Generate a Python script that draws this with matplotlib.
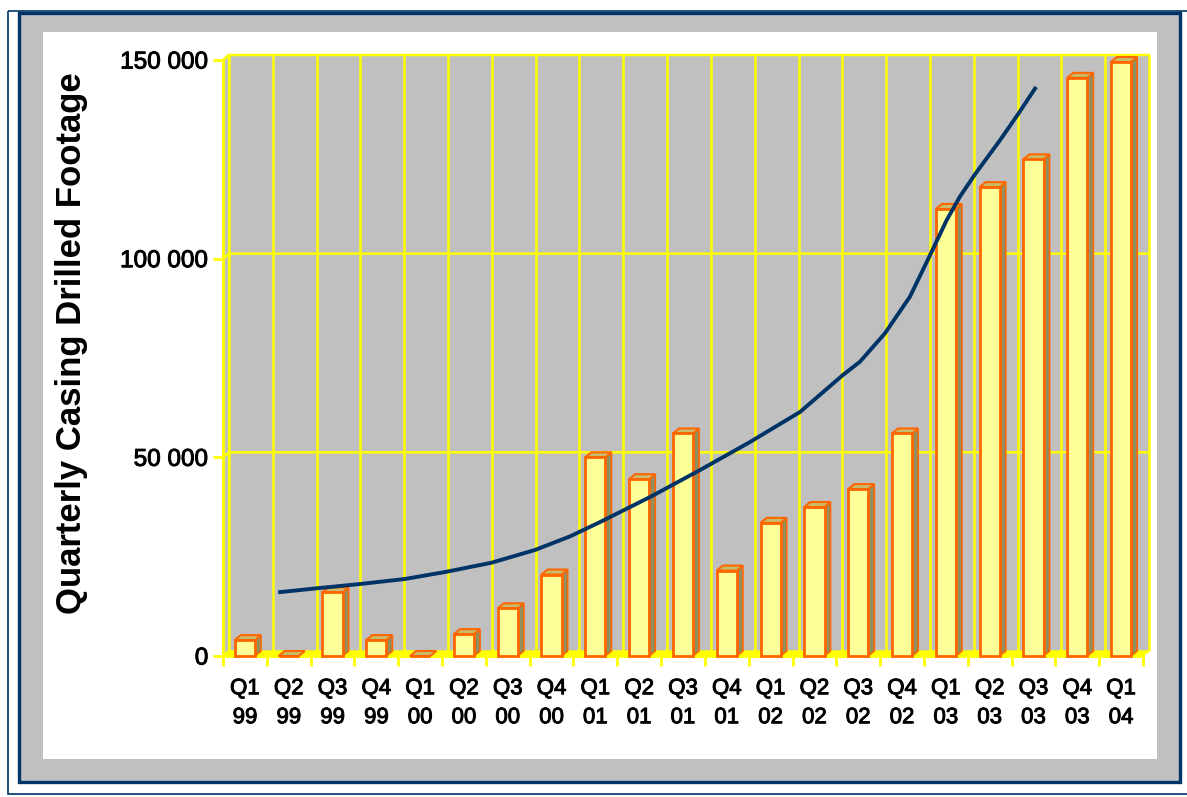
import matplotlib
matplotlib.use("Agg")
import matplotlib.pyplot as plt
import matplotlib.patheffects as pe
from matplotlib.patches import Rectangle, Polygon

plt.rcParams["font.family"] = ["Liberation Sans", "DejaVu Sans"]

quarters = ["Q1", "Q2", "Q3", "Q4", "Q1", "Q2", "Q3", "Q4", "Q1", "Q2", "Q3",
            "Q4", "Q1", "Q2", "Q3", "Q4", "Q1", "Q2", "Q3", "Q4", "Q1"]
years = ["99", "99", "99", "99", "00", "00", "00", "00", "01", "01", "01",
         "01", "02", "02", "02", "02", "03", "03", "03", "03", "04"]
footage = [4000, 0, 16000, 4000, 0, 5500, 12000, 20500, 50000, 44500, 56000,
           21500, 33500, 37500, 42000, 56000, 112500, 118000, 125000, 145500, 149500]

# trend curve, sampled along the category axis (0 = Q1 99)
trend_pos = [0.76, 1.64, 2.63, 3.65, 4.61, 5.63, 6.62, 7.42, 8.11, 9.25, 10.39,
             11.53, 12.67, 13.65, 14.04, 14.61, 15.18, 15.64, 16.02, 16.32, 16.67,
             17.24, 17.65, 18.06]
trend_val = [16030, 17040, 18120, 19380, 21220, 23480, 26680, 30100, 33730, 40020,
             46810, 53860, 61410, 70720, 74070, 81220, 90430, 100920, 109730,
             115600, 121310, 129870, 136410, 143210]

yticks = [0, 50000, 100000, 150000]
ytick_labels = ["0", "50 000", "100 000", "150 000"]

GRAY = "#C0C0C0"
NAVY = "#003366"
YELLOW = "#FFFF00"
ORANGE = "#FF6600"
FACE = "#FFFF99"
SIDE = "#8F8F60"
TOP = "#C8BC6A"

W, H = 1187, 797
fig = plt.figure(figsize=(W / 100, H / 100), dpi=100)

# frame drawn in pixel coordinates
bg = fig.add_axes([0, 0, 1, 1], zorder=-10)
bg.set_xlim(0, W)
bg.set_ylim(H, 0)
bg.axis("off")
bg.add_patch(Rectangle((7.5, 11), 1185, 783, fill=False, edgecolor=NAVY, lw=1.2))
bg.add_patch(Rectangle((18.5, 12.5), 1161, 769, facecolor=GRAY, edgecolor=NAVY, lw=2.4))
bg.add_patch(Rectangle((43, 32), 1114, 727, facecolor="white", edgecolor="none"))

ax = fig.add_axes([223 / W, 1 - 656 / H, 920 / W, 596 / H])
ax.set_facecolor("none")
n = len(footage)
ax.set_xlim(0, n)
ax.set_ylim(0, 150000)

dx, dy = 0.137, 1260
ymax = 150000

# back wall, left wall and floor
ax.add_patch(Rectangle((dx, dy), n, ymax, facecolor=GRAY, edgecolor="none",
                       zorder=0, clip_on=False))
ax.add_patch(Polygon([(0, 0), (dx, dy), (dx, ymax + dy), (0, ymax)], closed=True,
                     facecolor=GRAY, edgecolor=YELLOW, lw=1.5, zorder=0.5, clip_on=False))
for i in range(n + 1):
    ax.plot([i + dx, i + dx], [dy, ymax + dy], color=YELLOW, lw=1.8, zorder=1,
            clip_on=False, solid_capstyle="butt")
for v in yticks[1:]:
    ax.plot([0, dx, n + dx], [v, v + dy, v + dy], color=YELLOW, lw=1.8, zorder=1,
            clip_on=False)
ax.add_patch(Polygon([(0, 0), (n, 0), (n + dx, dy), (dx, dy)], closed=True,
                     facecolor=YELLOW, edgecolor=YELLOW, lw=1, zorder=1.5, clip_on=False))

# bars with side and top faces
bw = 0.46
centers = [i + 0.5 for i in range(n)]
ax.bar(centers, footage, width=bw, color=FACE, edgecolor=ORANGE, linewidth=2,
       zorder=3, clip_on=False)
for c, v in zip(centers, footage):
    x0, x1 = c - bw / 2, c + bw / 2
    ax.add_patch(Polygon([(x1, 0), (x1 + dx, dy), (x1 + dx, v + dy), (x1, v)], closed=True,
                         facecolor=SIDE, edgecolor=ORANGE, lw=1.2, zorder=2.8, clip_on=False))
    ax.add_patch(Polygon([(x0, v), (x0 + dx, v + dy), (x1 + dx, v + dy), (x1, v)], closed=True,
                         facecolor=TOP, edgecolor=ORANGE, lw=1.5, zorder=2.9, clip_on=False))

ax.plot([p + 0.5 for p in trend_pos], trend_val, color=NAVY, lw=2.8, zorder=4,
        clip_on=False, solid_joinstyle="round", solid_capstyle="butt")

for side in ("top", "right"):
    ax.spines[side].set_visible(False)
for side in ("left", "bottom"):
    ax.spines[side].set_color(YELLOW)
    ax.spines[side].set_linewidth(2)

heavy = [pe.withStroke(linewidth=0.7, foreground="black")]

ax.set_yticks(yticks)
ax.set_yticklabels(ytick_labels)
ax.tick_params(axis="y", colors=YELLOW, length=7.5, width=2, pad=3, labelsize=17.5,
               labelcolor="black")
ax.set_xticks(range(n + 1))
ax.set_xticklabels([])
ax.set_xticks(centers, minor=True)
ax.set_xticklabels([q + "\n" + y for q, y in zip(quarters, years)], minor=True,
                   linespacing=1.5)
ax.tick_params(axis="x", which="major", colors=YELLOW, length=7.5, width=2)
ax.tick_params(axis="x", which="minor", length=0, pad=16, labelsize=16,
               labelcolor="black")
for t in ax.get_yticklabels() + ax.get_xticklabels(minor=True):
    t.set_path_effects(heavy)

fig.text(72 / W, 1 - 343 / H, "Quarterly Casing Drilled Footage", rotation=90,
         ha="center", va="center", fontsize=25, fontweight="bold")

fig.savefig("out.png", dpi=100)
